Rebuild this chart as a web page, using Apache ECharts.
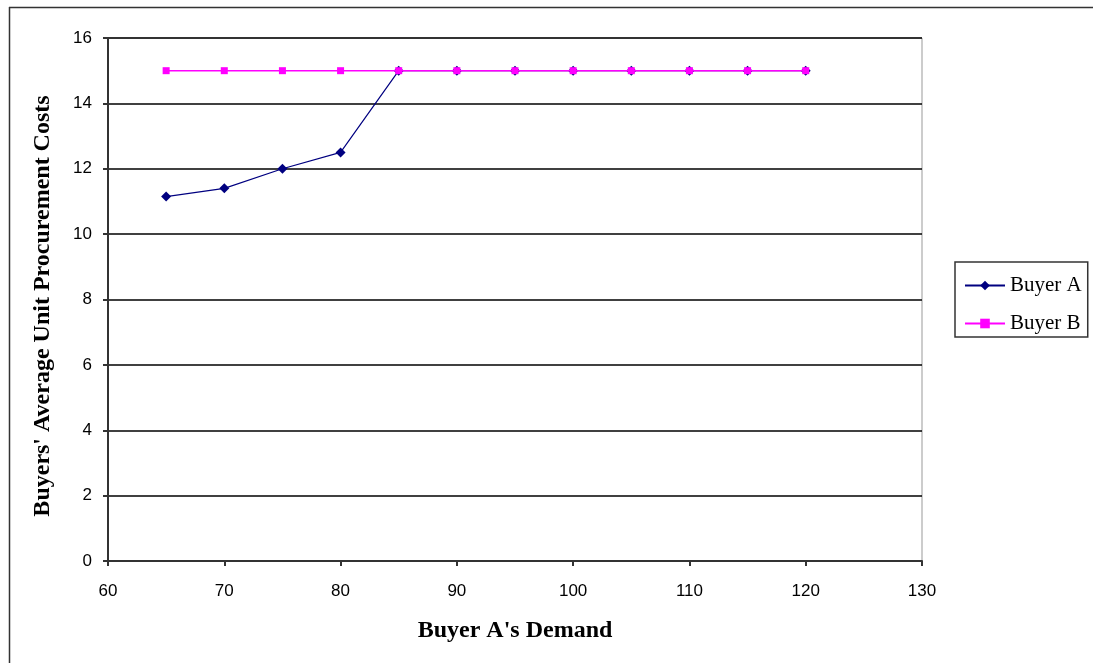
<!DOCTYPE html>
<html>
<head>
<meta charset="utf-8">
<script src="https://cdn.jsdelivr.net/npm/echarts@6/dist/echarts.min.js"></script>
<style>
html,body{margin:0;padding:0;background:#fff;}
#chart{width:1093px;height:663px;}
</style>
</head>
<body>
<div id="chart"></div>
<script>
// Buyer A's demand levels
const demand = [65, 70, 75, 80, 85, 90, 95, 100, 105, 110, 115, 120];
// Average unit procurement costs per buyer
const buyerA = [11.15, 11.4, 12.0, 12.5, 15, 15, 15, 15, 15, 15, 15, 15];
const buyerB = [15, 15, 15, 15, 15, 15, 15, 15, 15, 15, 15, 15];
const seriesNames = ['Buyer A', 'Buyer B'];
const xTitle = "Buyer A's Demand";
const yTitle = "Buyers' Average Unit Procurement Costs";

const pairs = (xs, ys) => xs.map((x, i) => [x, ys[i]]);
const titleFont = { fontFamily: 'Liberation Serif', fontWeight: 'bold', fontSize: 24, color: '#000' };

const chart = echarts.init(document.getElementById('chart'));
chart.setOption({
  animation: false,
  backgroundColor: '#fff',
  graphic: [
    { type: 'line', shape: { x1: 9.5, y1: 7, x2: 9.5, y2: 663 },
      style: { stroke: '#333', lineWidth: 1.5 }, silent: true },
    { type: 'line', shape: { x1: 9, y1: 7.5, x2: 1093, y2: 7.5 },
      style: { stroke: '#333', lineWidth: 1.5 }, silent: true },
    // vertical axis title, rotated
    { type: 'text', x: 43, y: 306, rotation: Math.PI / 2, silent: true,
      style: { text: yTitle, fill: '#000', font: 'bold 24px "Liberation Serif"',
               align: 'center', verticalAlign: 'middle' } }
  ],
  grid: {
    left: 108, top: 38, right: 171, bottom: 102,
    show: true, borderColor: '#999', borderWidth: 1, backgroundColor: '#fff'
  },
  legend: {
    orient: 'vertical',
    left: 955, top: 262,
    padding: [13, 6, 3, 9],
    itemGap: 17,
    itemWidth: 40, itemHeight: 12,
    borderColor: '#333', borderWidth: 1.5,
    textStyle: { fontFamily: 'Liberation Serif', fontSize: 21, color: '#000' },
    data: seriesNames
  },
  xAxis: {
    type: 'value', min: 60, max: 130, interval: 10,
    name: xTitle,
    nameLocation: 'middle', nameGap: 58,
    nameTextStyle: titleFont,
    axisLine: { lineStyle: { color: '#333', width: 2 } },
    axisTick: { show: true, length: 5, lineStyle: { color: '#333', width: 2 } },
    axisLabel: { fontFamily: 'Liberation Sans', fontSize: 17, color: '#000', margin: 22 },
    splitLine: { show: false }
  },
  yAxis: {
    type: 'value', min: 0, max: 16, interval: 2,
    axisLine: { show: true, lineStyle: { color: '#333', width: 2 } },
    axisTick: { show: true, length: 5, lineStyle: { color: '#333', width: 2 } },
    axisLabel: { fontFamily: 'Liberation Sans', fontSize: 17, color: '#000', margin: 16 },
    splitLine: { show: true, lineStyle: { color: '#000', width: 1.5 } }
  },
  series: [
    {
      name: 'Buyer A', type: 'line', data: pairs(demand, buyerA),
      color: '#000080', symbol: 'diamond', symbolSize: 10, showSymbol: true,
      lineStyle: { width: 1.2, color: '#000080' },
      itemStyle: { color: '#000080' }, z: 2
    },
    {
      name: 'Buyer B', type: 'line', data: pairs(demand, buyerB),
      color: '#ff00ff', symbol: 'rect', symbolSize: 7, showSymbol: true,
      lineStyle: { width: 1.5, color: '#ff00ff' },
      itemStyle: { color: '#ff00ff' }, z: 3
    }
  ]
});
</script>
</body>
</html>
